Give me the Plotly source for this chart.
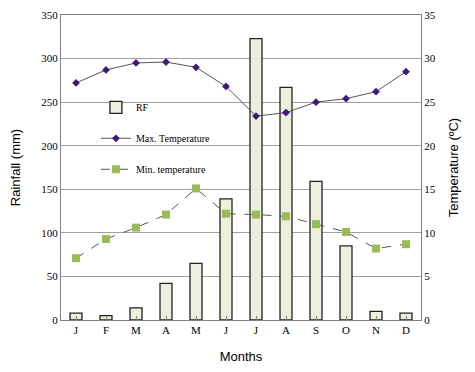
import plotly.graph_objects as go

months = ["J", "F", "M", "A", "M", "J", "J", "A", "S", "O", "N", "D"]
month_ids = list(range(12))
rainfall = [8, 5, 14, 42, 65, 139, 323, 267, 159, 85, 10, 8]
max_temp = [27.2, 28.7, 29.5, 29.6, 29.0, 26.8, 23.4, 23.8, 25.0, 25.4, 26.2, 28.5]
min_temp = [7.1, 9.3, 10.6, 12.1, 15.1, 12.2, 12.1, 11.9, 11.0, 10.1, 8.2, 8.7]
rain_ticks = [0, 50, 100, 150, 200, 250, 300, 350]
temp_ticks = [0, 5, 10, 15, 20, 25, 30, 35]

serif = "Liberation Serif"
sans = "Liberation Sans"

fig = go.Figure()
fig.add_trace(go.Bar(
    x=month_ids, y=rainfall, name="RF",
    marker=dict(color="#ECEFDC", line=dict(color="#222222", width=1.3)),
    legendgroup="a", yaxis="y",
))
fig.add_trace(go.Scatter(
    x=month_ids, y=max_temp, name="Max. Temperature", mode="lines+markers",
    line=dict(color="#555555", width=1),
    marker=dict(symbol="diamond", size=6, color="#3D1A78"),
    legendgroup="b", yaxis="y2",
))
fig.add_trace(go.Scatter(
    x=month_ids, y=min_temp, name="Min. temperature", mode="lines+markers",
    line=dict(color="#555555", width=1, dash="dash"),
    marker=dict(symbol="square", size=8, color="#9BBB59"),
    legendgroup="c", yaxis="y2",
))

fig.update_layout(
    width=475, height=372,
    margin=dict(l=53, r=62, t=7, b=60, autoexpand=False),
    paper_bgcolor="white", plot_bgcolor="white",
    bargap=0.6,
    showlegend=True,
    legend=dict(
        x=0.097, y=0.745, xanchor="left", yanchor="top",
        bgcolor="rgba(0,0,0,0)", font=dict(family=serif, size=10, color="#000"),
        traceorder="grouped", tracegroupgap=12, itemwidth=30,
    ),
    xaxis=dict(
        tickmode="array", tickvals=month_ids, ticktext=months,
        range=[-0.5, 11.5], automargin=False,
        showline=True, linecolor="#808080", linewidth=1, mirror=True,
        ticks="inside", tickson="boundaries", ticklen=4, tickcolor="#808080",
        tickfont=dict(family=serif, size=11, color="#000"),
        title=dict(text="Months", font=dict(family=sans, size=13, color="#000"), standoff=16),
        showgrid=False,
    ),
    yaxis=dict(
        range=[0, 350], tickvals=rain_ticks, automargin=False,
        showline=True, linecolor="#808080", linewidth=1,
        showgrid=True, gridcolor="#A0A0A0", gridwidth=1,
        ticks="", tickfont=dict(family=serif, size=11, color="#000"),
        title=dict(text="Rainfall (mm)", font=dict(family=sans, size=13, color="#000"), standoff=17),
        zeroline=False,
    ),
    yaxis2=dict(
        range=[0, 35], tickvals=temp_ticks, overlaying="y", side="right", automargin=False,
        showline=True, linecolor="#808080", linewidth=1,
        showgrid=False, ticks="", zeroline=False,
        tickfont=dict(family=serif, size=11, color="#000"),
        title=dict(text="Temperature (ºC)", font=dict(family=sans, size=13, color="#000"), standoff=14),
    ),
)

fig.write_html("out.html")
